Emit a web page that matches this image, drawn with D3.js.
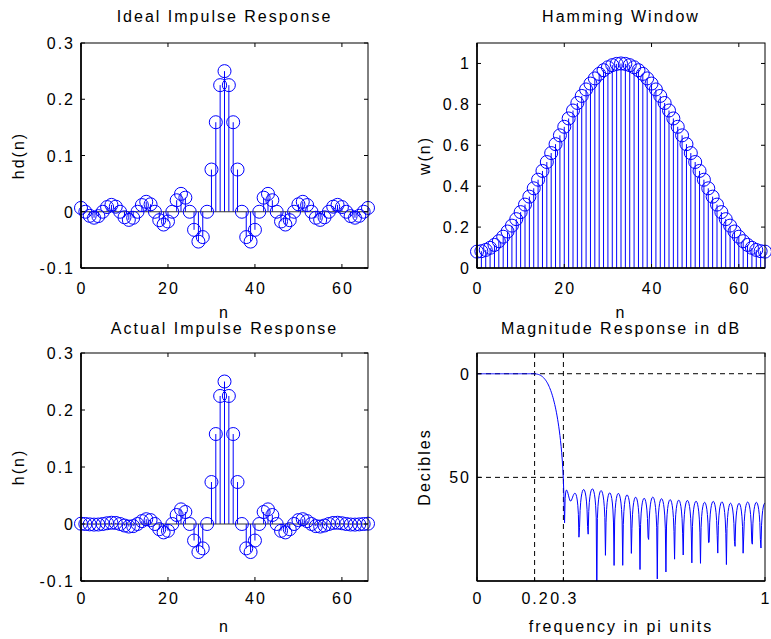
<!DOCTYPE html>
<html><head><meta charset="utf-8">
<script src="https://cdn.jsdelivr.net/npm/d3@7"></script>
<style>
body{margin:0;background:#fff;}
svg{display:block;font-family:"Liberation Sans",Arial,Helvetica,sans-serif;}
</style></head><body>
<svg id="c" width="771" height="639"></svg>
<script>
// ---- data ----
const nIdx = d3.range(0, 67);
// ideal impulse response hd(n), n = 0..33 (symmetric about n = 33)
const hdHalf = [0.00682,0,-0.00726,-0.01061,-0.00776,0,0.00834,0.01224,0.00900,0,-0.00979,-0.01447,-0.01072,0,
  0.01185,0.01768,0.01324,0,-0.01500,-0.02274,-0.01731,0,0.02046,0.03183,0.02501,0,-0.03215,-0.05305,-0.04502,0,
  0.07503,0.15915,0.22508,0.25];
const hd = hdHalf.concat(hdHalf.slice(0, 33).reverse());
// Hamming window w(n)
const wHalf = [0.0800,0.0821,0.0883,0.0986,0.1129,0.1311,0.1530,0.1784,0.2071,0.2388,0.2732,0.3100,0.3489,
  0.3896,0.4316,0.4745,0.5181,0.5619,0.6055,0.6484,0.6904,0.7311,0.7700,0.8068,0.8412,0.8729,0.9016,0.9270,
  0.9489,0.9670,0.9814,0.9917,0.9979,1.0];
const wn = wHalf.concat(wHalf.slice(0, 33).reverse());
// actual impulse response h(n)
const hHalf = [0.00055,0,-0.00064,-0.00105,-0.00088,0,0.00128,0.00218,0.00186,0,-0.00267,-0.00449,-0.00374,0,
  0.00511,0.00839,0.00686,0,-0.00910,-0.01474,-0.01195,0,0.01575,0.02568,0.02104,0,-0.02899,-0.04918,-0.04272,0,
  0.07363,0.15783,0.22461,0.25];
const hn = hHalf.concat(hHalf.slice(0, 33).reverse());
const xTicksN = [0, 20, 40, 60];
const yTicksH = [-0.1, 0, 0.1, 0.2, 0.3];
const yTicksW = [0, 0.2, 0.4, 0.6, 0.8, 1];
const fTicks = [0, 0.2, 0.3, 1];
const fTickLabels = ["0", "0.2", "0.3", "1"];
const dbTicks = [-50, 0];
const dbTickLabels = ["50", "0"];
// magnitude response (dB) of h(n), 501 points over 0..pi
const freq = d3.range(0, 501).map(k => k / 500);
const magRaw = freq.map(f => {
  let re = 0, im = 0;
  hn.forEach((v, n) => { re += v * Math.cos(Math.PI * f * n); im -= v * Math.sin(Math.PI * f * n); });
  return Math.hypot(re, im);
});
const magMax = d3.max(magRaw);
const magDb = magRaw.map(m => 20 * Math.log10(Math.max(m, 1e-12) / magMax));

// ---- drawing ----
const svg = d3.select("#c");
const FS = 16, LS = "2px";
const panels = [
  {x0: 81, x1: 368, y0: 43, y1: 268},
  {x0: 477, x1: 765, y0: 43, y1: 268},
  {x0: 81, x1: 368, y0: 353, y1: 581},
  {x0: 477, x1: 765, y0: 353, y1: 581}
];

function frame(p, xs, ys, xt, yt, xl, yl, title, xlab, ylab, xtBase, titleBase, xlabBase, ylabX) {
  const g = svg.append("g");
  xt.forEach(t => {
    const x = xs(t);
    g.append("line").attr("x1", x).attr("x2", x).attr("y1", p.y1).attr("y2", p.y1 - 4).attr("stroke", "#000");
    g.append("line").attr("x1", x).attr("x2", x).attr("y1", p.y0).attr("y2", p.y0 + 4).attr("stroke", "#000");
  });
  yt.forEach(t => {
    const y = ys(t);
    g.append("line").attr("x1", p.x0).attr("x2", p.x0 + 4).attr("y1", y).attr("y2", y).attr("stroke", "#000");
    g.append("line").attr("x1", p.x1).attr("x2", p.x1 - 4).attr("y1", y).attr("y2", y).attr("stroke", "#000");
  });
  g.append("rect").attr("x", p.x0).attr("y", p.y0).attr("width", p.x1 - p.x0).attr("height", p.y1 - p.y0)
    .attr("fill", "none").attr("stroke", "#000").attr("stroke-width", 1);
  g.append("line").attr("x1", p.x0).attr("x2", p.x0).attr("y1", p.y0).attr("y2", p.y1).attr("stroke", "#000").attr("stroke-width", 1.6);
  g.append("line").attr("x1", p.x0).attr("x2", p.x1).attr("y1", p.y1).attr("y2", p.y1).attr("stroke", "#000").attr("stroke-width", 1.6);
  xt.forEach((t, i) => {
    g.append("text").attr("x", xs(t) + 1).attr("y", xtBase).attr("text-anchor", "middle")
      .attr("font-size", FS).attr("letter-spacing", LS).text(xl[i]);
  });
  yt.forEach((t, i) => {
    g.append("text").attr("x", p.x0 - 6).attr("y", ys(t) + 6).attr("text-anchor", "end")
      .attr("font-size", FS).attr("letter-spacing", LS).text(yl[i]);
  });
  const cx = (p.x0 + p.x1) / 2;
  g.append("text").attr("x", cx).attr("y", titleBase).attr("text-anchor", "middle")
    .attr("font-size", FS).attr("letter-spacing", LS).text(title);
  g.append("text").attr("x", cx).attr("y", xlabBase).attr("text-anchor", "middle")
    .attr("font-size", FS).attr("letter-spacing", LS).text(xlab);
  g.append("text").attr("transform", `translate(${ylabX},${(p.y0 + p.y1) / 2}) rotate(-90)`)
    .attr("text-anchor", "middle").attr("font-size", FS).attr("letter-spacing", LS).text(ylab);
}

function stems(p, data, ydom, yt, yl, title, ylab, xtBase, titleBase, xlabBase, ylabX, baseline) {
  const xs = d3.scaleLinear().domain([0, 66]).range([p.x0, p.x1]);
  const ys = d3.scaleLinear().domain(ydom).range([p.y1, p.y0]);
  const g = svg.append("g");
  g.selectAll("line.s").data(data).enter().append("line")
    .attr("x1", (d, i) => xs(nIdx[i])).attr("x2", (d, i) => xs(nIdx[i]))
    .attr("y1", ys(0)).attr("y2", d => ys(d)).attr("stroke", "#0000ff").attr("stroke-width", 1);
  if (baseline) {
    g.append("line").attr("x1", xs(0)).attr("x2", xs(66)).attr("y1", ys(0)).attr("y2", ys(0))
      .attr("stroke", "#333").attr("stroke-width", 1.2);
  }
  g.selectAll("circle").data(data).enter().append("circle")
    .attr("cx", (d, i) => xs(nIdx[i])).attr("cy", d => ys(d)).attr("r", 6.5)
    .attr("fill", "none").attr("stroke", "#0000ff").attr("stroke-width", 1);
  frame(p, xs, ys, xTicksN, yt, xTicksN.map(String), yl, title, "n", ylab, xtBase, titleBase, xlabBase, ylabX);
}

stems(panels[0], hd, [-0.1, 0.3], yTicksH, ["-0.1", "0", "0.1", "0.2", "0.3"],
  "Ideal Impulse Response", "hd(n)", 294, 22, 318, 24, true);
stems(panels[1], wn, [0, 1.1], yTicksW, ["0", "0.2", "0.4", "0.6", "0.8", "1"],
  "Hamming Window", "w(n)", 294, 22, 318, 430, false);
stems(panels[2], hn, [-0.1, 0.3], yTicksH, ["-0.1", "0", "0.1", "0.2", "0.3"],
  "Actual Impulse Response", "h(n)", 604, 334, 632, 24, true);

// magnitude response panel
(function () {
  const p = panels[3];
  const xs = d3.scaleLinear().domain([0, 1]).range([p.x0, p.x1]);
  const ys = d3.scaleLinear().domain([-100, 10]).range([p.y1, p.y0]);
  svg.append("clipPath").attr("id", "clipm").append("rect")
    .attr("x", p.x0).attr("y", p.y0).attr("width", p.x1 - p.x0).attr("height", p.y1 - p.y0);
  const g = svg.append("g");
  fTicks.forEach(t => {
    if (t > 0 && t < 1) g.append("line").attr("x1", xs(t)).attr("x2", xs(t)).attr("y1", p.y0).attr("y2", p.y1)
      .attr("stroke", "#000").attr("stroke-dasharray", "5,4").attr("stroke-width", 1);
  });
  dbTicks.forEach(t => {
    g.append("line").attr("x1", p.x0).attr("x2", p.x1).attr("y1", ys(t)).attr("y2", ys(t))
      .attr("stroke", "#000").attr("stroke-dasharray", "5,4").attr("stroke-width", 1);
  });
  const line = d3.line().x((d, i) => xs(freq[i])).y(d => ys(Math.max(d, -300)));
  g.append("path").datum(magDb).attr("d", line).attr("fill", "none")
    .attr("stroke", "#0000ff").attr("stroke-width", 1).attr("clip-path", "url(#clipm)");
  frame(p, xs, ys, fTicks, dbTicks, fTickLabels, dbTickLabels, "Magnitude Response in dB",
    "frequency in pi units", "Decibles", 604, 334, 632, 430);
})();
</script></body></html>
